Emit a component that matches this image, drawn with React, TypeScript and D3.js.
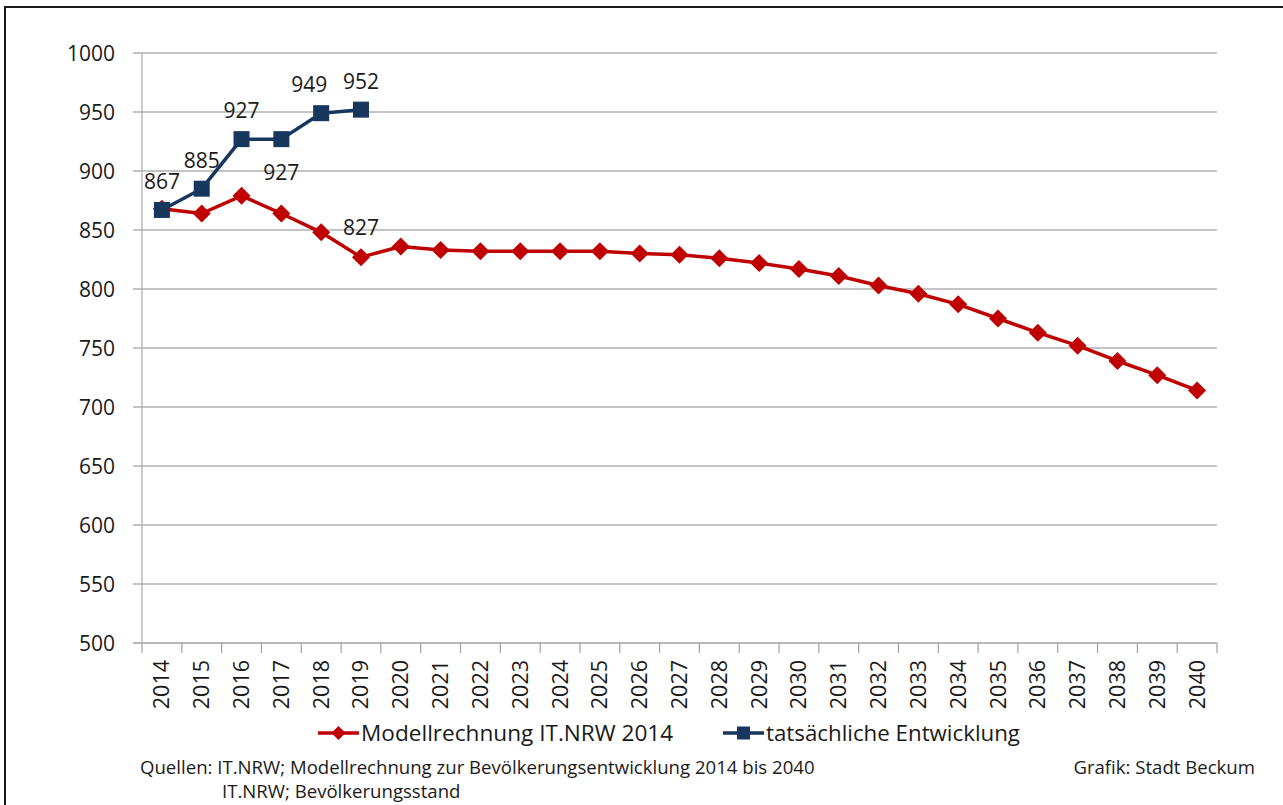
import * as d3 from "d3";
import React from "react";

const width = 1283;
const height = 805;
const margin = { top: 53, right: 66, bottom: 162, left: 142 };

const years = [
  "2014", "2015", "2016", "2017", "2018", "2019", "2020", "2021", "2022",
  "2023", "2024", "2025", "2026", "2027", "2028", "2029", "2030", "2031",
  "2032", "2033", "2034", "2035", "2036", "2037", "2038", "2039", "2040",
];
const modellValues = [
  868, 864, 879, 864, 848, 827, 836, 833, 832, 832, 832, 832, 830, 829, 826,
  822, 817, 811, 803, 796, 787, 775, 763, 752, 739, 727, 714,
];
const actualYears = ["2014", "2015", "2016", "2017", "2018", "2019"];
const actualValues = [867, 885, 927, 927, 949, 952];
// where each value label sits relative to its marker
const actualLabelPos = ["above", "above", "above", "below", "aboveLeft", "above"];
const modellLabelYears = ["2019"];
const yTicks = [500, 550, 600, 650, 700, 750, 800, 850, 900, 950, 1000];

const seriesNames = ["Modellrechnung IT.NRW 2014", "tatsächliche Entwicklung"];
const red = "#C00000";
const navy = "#17375E";
const ink = "#1a1a1a";
const font = "'Open Sans', 'Noto Sans', sans-serif";

const App = () => {
  const x = d3
    .scaleBand()
    .domain(years)
    .range([margin.left, width - margin.right])
    .padding(0);
  const y = d3
    .scaleLinear()
    .domain([500, 1000])
    .range([height - margin.bottom, margin.top]);
  const cx = (yr) => x(yr) + x.bandwidth() / 2;
  const x0 = margin.left;
  const x1 = width - margin.right;
  const yBase = y(500);

  const modellLine = d3
    .line()
    .x((d, i) => cx(years[i]))
    .y((d) => y(d));
  const actualLine = d3
    .line()
    .x((d, i) => cx(actualYears[i]))
    .y((d) => y(d));

  const diamond = (s) => `M0,${-s}L${s},0L0,${s}L${-s},0Z`;

  return (
    <svg
      width={width}
      height={height}
      style={{ position: "absolute", left: 0, top: 0, background: "#fff" }}
      fontFamily={font}
    >
      <rect x={5} y={7} width={width + 10} height={height + 10} fill="#fff" stroke="#1a1a1a" strokeWidth={2} />

      {/* gridlines + y axis */}
      {yTicks.map((t) => (
        <g key={t}>
          <line x1={x0 - 9} x2={x1} y1={y(t)} y2={y(t)} stroke={t === 500 ? "#a0a0a0" : "#b0b0b0"} strokeWidth={1.3} />
          <text x={115} y={y(t)} dy="0.36em" textAnchor="end" fontSize={21} fill={ink}>
            {t}
          </text>
        </g>
      ))}
      <line x1={x0} x2={x0} y1={y(1000)} y2={yBase} stroke="#b0b0b0" strokeWidth={1.3} />

      {/* x axis ticks & labels */}
      {years.map((yr) => (
        <g key={yr}>
          <line x1={x(yr)} x2={x(yr)} y1={yBase} y2={yBase + 10} stroke="#a0a0a0" strokeWidth={1.2} />
          <text
            transform={`translate(${cx(yr) + 7.5},${yBase + 17}) rotate(-90)`}
            textAnchor="end"
            fontSize={21.5}
            fill={ink}
          >
            {yr}
          </text>
        </g>
      ))}
      <line x1={x1} x2={x1} y1={yBase} y2={yBase + 10} stroke="#a0a0a0" strokeWidth={1.2} />

      {/* Modellrechnung */}
      <path d={modellLine(modellValues)} fill="none" stroke={red} strokeWidth={3.5} strokeLinejoin="round" />
      {modellValues.map((v, i) => (
        <path key={i} d={diamond(9)} transform={`translate(${cx(years[i])},${y(v)})`} fill={red} />
      ))}

      {/* tatsächliche Entwicklung */}
      <path d={actualLine(actualValues)} fill="none" stroke={navy} strokeWidth={3.5} strokeLinejoin="round" />
      {actualValues.map((v, i) => (
        <rect key={i} x={cx(actualYears[i]) - 8} y={y(v) - 8} width={16} height={16} fill={navy} />
      ))}

      {/* value labels */}
      {actualValues.map((v, i) => {
        const pos = actualLabelPos[i];
        const px = cx(actualYears[i]) + (pos === "aboveLeft" ? -12 : 0);
        const py = pos === "below" ? y(v) + 41 : y(v) - 21;
        return (
          <text key={i} x={px} y={py} textAnchor="middle" fontSize={21} fill={ink}>
            {v}
          </text>
        );
      })}
      {modellLabelYears.map((yr) => {
        const v = modellValues[years.indexOf(yr)];
        return (
          <text key={yr} x={cx(yr)} y={y(v) - 22} textAnchor="middle" fontSize={21} fill={ink}>
            {v}
          </text>
        );
      })}

      {/* legend */}
      <g transform="translate(318,733)">
        <line x1={0} x2={41} y1={0} y2={0} stroke={red} strokeWidth={3.5} />
        <path d={diamond(7)} transform="translate(20.5,0)" fill={red} />
        <text x={43} y={0} dy="0.36em" fontSize={22.6} fill={ink}>
          {seriesNames[0]}
        </text>
      </g>
      <g transform="translate(723,733)">
        <line x1={0} x2={41} y1={0} y2={0} stroke={navy} strokeWidth={3.5} />
        <rect x={14} y={-6.5} width={13} height={13} fill={navy} />
        <text x={43} y={0} dy="0.36em" fontSize={22.3} fill={ink}>
          {seriesNames[1]}
        </text>
      </g>

      {/* footer */}
      <text x={140} y={774} fontSize={18.6} fill={ink}>
        Quellen: IT.NRW; Modellrechnung zur Bevölkerungsentwicklung 2014 bis 2040
      </text>
      <text x={222} y={798} fontSize={18.6} fill={ink}>
        IT.NRW; Bevölkerungsstand
      </text>
      <text x={1255} y={774} textAnchor="end" fontSize={18.6} fill={ink}>
        Grafik: Stadt Beckum
      </text>
    </svg>
  );
};

export default App;
